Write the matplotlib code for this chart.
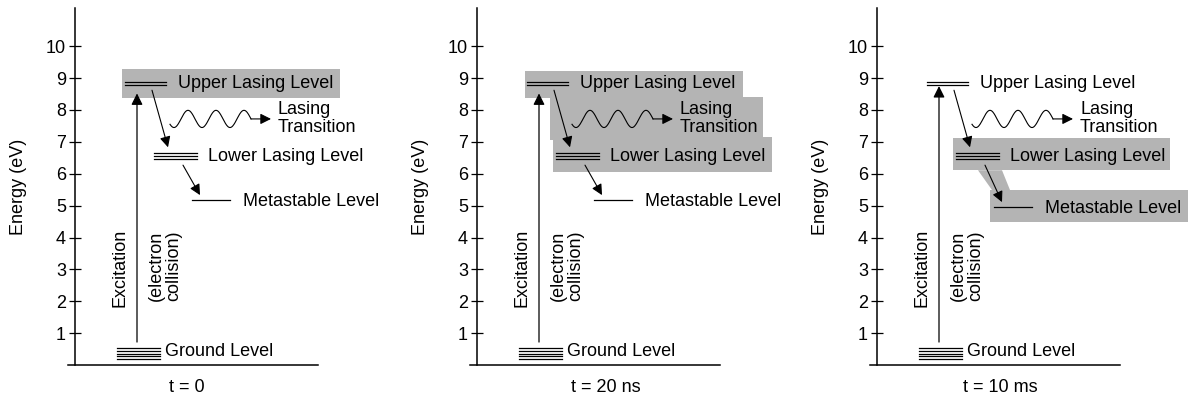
import numpy as np
import matplotlib
matplotlib.use('Agg')
from matplotlib import pyplot as plt
from matplotlib.patches import Rectangle, Polygon

plt.rcParams['font.family'] = ['Liberation Sans', 'DejaVu Sans']
plt.rcParams['font.size'] = 13

# energies (eV) of the drawn levels
ground_levels = [0.52, 0.44, 0.35, 0.27, 0.18]
upper_levels = [8.87, 8.78]
lower_levels = [6.65, 6.55, 6.46]
meta_level = [5.17, 5.17, 4.95]          # one value per panel
excite_from = 0.72
excite_to = [8.52, 8.52, 8.75]

ticks = [1, 2, 3, 4, 5, 6, 7, 8, 9, 10]
time_labels = ['t = 0', 't = 20 ns', 't = 10 ms']
time_label_x = [0.476, 0.544, 0.52]

# shaded regions per panel: (x0, x1, e_low, e_high)
shade_boxes = [
    [(47, 265, 8.37, 9.28)],
    [(48, 266, 8.37, 9.22), (73, 286, 7.05, 8.40), (76, 295, 6.05, 7.15)],
    [(76, 293, 6.11, 7.12), (113, 311, 4.48, 5.49)],
]
shade_links = [[], [], [[(101, 6.11), (125, 6.11), (133, 5.49), (115, 5.49)]]]

GRAY = '#b4b4b4'
spines_px = [75, 477, 877]

fig = plt.figure(figsize=(11.89, 3.98), dpi=100)


def draw_panel(ax, i):
    for x0, x1, e0, e1 in shade_boxes[i]:
        ax.add_patch(Rectangle((x0, e0), x1 - x0, e1 - e0, facecolor=GRAY,
                               edgecolor='none', clip_on=False, zorder=0))
    for pts in shade_links[i]:
        ax.add_patch(Polygon(pts, closed=True, facecolor=GRAY, edgecolor='none',
                             clip_on=False, zorder=0))

    # energy levels
    for e in ground_levels:
        ax.plot([42, 85], [e, e], color='black', lw=0.9, clip_on=False)
    for e in upper_levels:
        ax.plot([50, 91], [e, e], color='black', lw=0.9, clip_on=False)
    for e in lower_levels:
        ax.plot([79, 122], [e, e], color='black', lw=0.9, clip_on=False)
    em = meta_level[i]
    ax.plot([117, 155], [em, em], color='black', lw=0.9, clip_on=False)

    ax.text(90, 0.41, 'Ground Level', va='center', ha='left')
    ax.text(103, 8.84, 'Upper Lasing Level', va='center', ha='left')
    ax.text(133, 6.54, 'Lower Lasing Level', va='center', ha='left')
    ax.text(168, em - 0.03, 'Metastable Level', va='center', ha='left',
            clip_on=False)
    ax.text(203, 7.74, 'Lasing\nTransition', va='center', ha='left',
            linespacing=1.05)

    # excitation arrow
    ax.annotate('', xy=(62, excite_to[i]), xytext=(62, excite_from),
                arrowprops=dict(arrowstyle='-|>', lw=0.9, color='black',
                                mutation_scale=17, shrinkA=0, shrinkB=0))
    ax.text(45, 3.05, 'Excitation', rotation=90, ha='center', va='center')
    ax.text(90, 3.1, '(electron\ncollision)', rotation=90, ha='center',
            va='center', linespacing=1.05)

    # decay arrows
    ax.annotate('', xy=(93, 6.83), xytext=(77, 8.62),
                arrowprops=dict(arrowstyle='-|>', lw=0.8, color='black',
                                mutation_scale=16, shrinkA=0, shrinkB=0))
    ax.annotate('', xy=(125, em + 0.16), xytext=(108, 6.27),
                arrowprops=dict(arrowstyle='-|>', lw=0.8, color='black',
                                mutation_scale=16, shrinkA=0, shrinkB=0))

    # photon (wavy line)
    wx = np.linspace(95, 176, 200)
    wy = 7.72 + 0.27 * np.sin(2 * np.pi * (wx - 113) / 28 + np.pi / 2)
    ax.plot(wx, wy, color='black', lw=0.8)
    ax.annotate('', xy=(196, 7.72), xytext=(176, 7.72),
                arrowprops=dict(arrowstyle='-|>', lw=0.8, color='black',
                                mutation_scale=16, shrinkA=0, shrinkB=0))

    # axes styling
    ax.set_xlim(-7, 243)
    ax.set_ylim(0, 11.2)
    ax.spines['left'].set_position(('data', 0))
    ax.spines['top'].set_visible(False)
    ax.spines['right'].set_visible(False)
    ax.spines['left'].set_linewidth(1.1)
    ax.spines['bottom'].set_linewidth(1.1)
    ax.set_xticks([])
    ax.set_yticks(ticks)
    ax.tick_params(axis='y', direction='inout', length=9, width=0.9, pad=2,
                   labelsize=13)
    ax.set_ylabel('Energy (eV)', fontsize=13)
    ax.yaxis.set_label_coords(-0.165, 0.5)
    ax.set_xlabel(time_labels[i], fontsize=13)
    ax.xaxis.set_label_coords(time_label_x[i], -0.04)
    ax.patch.set_visible(False)


for i, sx in enumerate(spines_px):
    left = (sx - 7) / 1189
    ax = fig.add_axes([left, 33 / 398, 250 / 1189, 357 / 398])
    draw_panel(ax, i)

fig.savefig('out.png', dpi=100)
